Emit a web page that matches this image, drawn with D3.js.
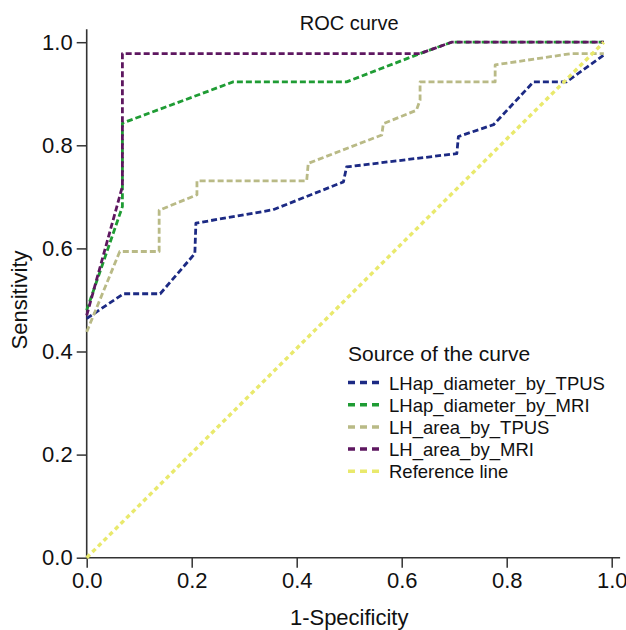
<!DOCTYPE html>
<html>
<head>
<meta charset="utf-8">
<script src="https://cdn.jsdelivr.net/npm/d3@7/dist/d3.min.js"></script>
<style>
  body { margin: 0; background: #fff; }
  text { font-family: "Liberation Sans", Arial, sans-serif; fill: #111; }
</style>
</head>
<body>
<div id="chart"></div>
<script>
// ROC curves (x = 1-Specificity, y = Sensitivity)
const seriesNames = ["LHap_diameter_by_TPUS", "LHap_diameter_by_MRI", "LH_area_by_TPUS", "LH_area_by_MRI", "Reference line"];

const diamTpusX = [0, 0.07, 0.14, 0.206, 0.208, 0.355, 0.489, 0.495, 0.705, 0.708, 0.775, 0.851, 0.914, 0.985];
const diamTpusY = [0.464, 0.512, 0.512, 0.59, 0.649, 0.675, 0.729, 0.758, 0.784, 0.817, 0.84, 0.923, 0.923, 0.975];

const diamMriX = [0, 0.068, 0.068, 0.279, 0.495, 0.635, 0.695, 0.985];
const diamMriY = [0.48, 0.681, 0.843, 0.923, 0.923, 0.978, 1.0, 1.0];

const areaTpusX = [0, 0.063, 0.138, 0.138, 0.21, 0.21, 0.419, 0.422, 0.562, 0.565, 0.628, 0.635, 0.635, 0.778, 0.778, 0.924, 0.985];
const areaTpusY = [0.438, 0.594, 0.594, 0.674, 0.704, 0.731, 0.731, 0.765, 0.82, 0.842, 0.868, 0.888, 0.923, 0.923, 0.956, 0.978, 0.978];

const areaMriX = [0, 0.068, 0.068, 0.635, 0.695, 0.985];
const areaMriY = [0.47, 0.72, 0.978, 0.978, 1.0, 1.0];

const refX = [0, 0.985];
const refY = [0, 1.0];

const tickValues = [0, 0.2, 0.4, 0.6, 0.8, 1.0];

// styling
const colors = ["#1c2a84", "#1f9c34", "#b9ba86", "#5e1760", "#e9e96c"];
const width = 626, height = 630;

const svg = d3.select("#chart").append("svg")
  .attr("width", width)
  .attr("height", height);

const x = d3.scaleLinear().domain([0, 1]).range([86.7, 611.7]);
const y = d3.scaleLinear().domain([0, 1]).range([557.7, 42.2]);

// axes
const xAxis = d3.axisBottom(x)
  .tickValues(tickValues)
  .tickFormat(d3.format(".1f"))
  .tickSize(10)
  .tickPadding(5);

const yAxis = d3.axisLeft(y)
  .tickValues(tickValues)
  .tickFormat(d3.format(".1f"))
  .tickSize(10)
  .tickPadding(4);

const gx = svg.append("g")
  .attr("transform", "translate(0," + y(0) + ")")
  .call(xAxis);
const gy = svg.append("g")
  .attr("transform", "translate(" + x(0) + ",0)")
  .call(yAxis);

[gx, gy].forEach(function(g) {
  g.select(".domain").remove();
  g.selectAll(".tick line").attr("stroke", "#333").attr("stroke-width", 1.5);
  g.selectAll(".tick text")
    .style("font-size", "22px")
    .style("font-family", "'Liberation Sans', Arial, sans-serif")
    .attr("fill", "#111");
});

// axis lines run a bit past the last ticks
svg.append("line")
  .attr("x1", x(0)).attr("x2", x(1.016))
  .attr("y1", y(0)).attr("y2", y(0))
  .attr("stroke", "#333").attr("stroke-width", 1.6);
svg.append("line")
  .attr("x1", x(0)).attr("x2", x(0))
  .attr("y1", y(0)).attr("y2", y(1.025))
  .attr("stroke", "#333").attr("stroke-width", 1.6);

// curves
const curves = [
  { xs: diamTpusX, ys: diamTpusY },
  { xs: diamMriX, ys: diamMriY },
  { xs: areaTpusX, ys: areaTpusY },
  { xs: areaMriX, ys: areaMriY },
  { xs: refX, ys: refY }
];

const line = d3.line()
  .x(function(d) { return x(d[0]); })
  .y(function(d) { return y(d[1]); });

curves.forEach(function(c, i) {
  const pts = c.xs.map(function(v, k) { return [v, c.ys[k]]; });
  svg.append("path")
    .datum(pts)
    .attr("d", line)
    .attr("fill", "none")
    .attr("stroke", colors[i])
    .attr("stroke-width", i === 4 ? 3.4 : 2.8)
    .attr("stroke-dasharray", i === 4 ? "4.5,3.5" : "6,3")
    .attr("stroke-linejoin", "round");
});

// titles
svg.append("text")
  .attr("x", (x(0) + x(1)) / 2)
  .attr("y", 30)
  .attr("text-anchor", "middle")
  .style("font-size", "20px")
  .text("ROC curve");

svg.append("text")
  .attr("x", (x(0) + x(1)) / 2)
  .attr("y", 625)
  .attr("text-anchor", "middle")
  .style("font-size", "22px")
  .text("1-Specificity");

svg.append("text")
  .attr("transform", "translate(27," + ((y(0) + y(1)) / 2) + ") rotate(-90)")
  .attr("text-anchor", "middle")
  .style("font-size", "22px")
  .text("Sensitivity");

// legend
const legend = svg.append("g")
  .attr("transform", "translate(348,361)");

legend.append("text")
  .attr("x", 0)
  .attr("y", 0)
  .style("font-size", "21px")
  .text("Source of the curve");

const items = legend.selectAll(".legend-item")
  .data(seriesNames)
  .enter()
  .append("g")
  .attr("class", "legend-item")
  .attr("transform", function(d, i) { return "translate(0," + (28.5 + i * 22.2) + ")"; });

items.append("line")
  .attr("x1", 0).attr("x2", 32)
  .attr("y1", -7).attr("y2", -7)
  .attr("stroke", function(d, i) { return colors[i]; })
  .attr("stroke-width", 3.5)
  .attr("stroke-dasharray", "7,5");

items.append("text")
  .attr("x", 41)
  .attr("y", 0)
  .style("font-size", "18.5px")
  .text(function(d) { return d; });
</script>
</body>
</html>
